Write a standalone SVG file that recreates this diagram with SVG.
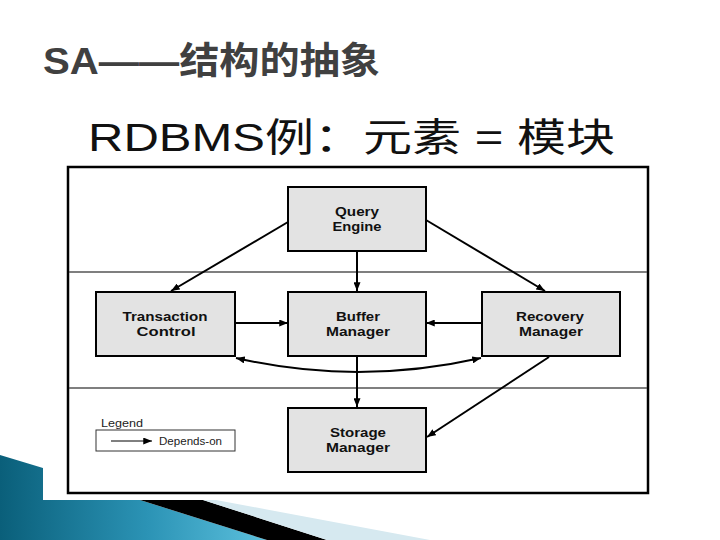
<svg xmlns="http://www.w3.org/2000/svg" width="720" height="540" viewBox="0 0 720 540">
<style>
.title{font-family:"Liberation Sans","Noto Sans CJK SC",sans-serif;font-weight:bold;fill:#404040;}
.sub{font-family:"Liberation Sans","Noto Sans CJK SC",sans-serif;fill:#111;}
.box{fill:#e3e3e3;stroke:#000;stroke-width:2;}
.lbl{font-family:"Liberation Sans",Arial,sans-serif;font-weight:bold;font-size:12px;fill:#111;text-anchor:middle;}
.leg{font-family:"Liberation Sans",Arial,sans-serif;font-size:10px;fill:#222;}
.conn{fill:none;stroke:#000;stroke-width:2;}
.sep{stroke:#555;stroke-width:1.5;}
</style>
<defs>
<marker id="ah" viewBox="0 0 10 8" refX="10" refY="4" markerWidth="9" markerHeight="7" markerUnits="userSpaceOnUse" orient="auto-start-reverse">
<path d="M0,0 L10,4 L0,8 z" fill="#000"/>
</marker>
<linearGradient id="teal" x1="0" y1="0" x2="1" y2="0">
<stop offset="0" stop-color="#0a5f7a"/>
<stop offset="0.55" stop-color="#2b93b5"/>
<stop offset="1" stop-color="#5cc0dd"/>
</linearGradient>
</defs>
<rect width="720" height="540" fill="#fff"/>
<g id="decoration">
<polygon points="0,455 43,468 43,500 140,500 267,540 0,540" fill="url(#teal)"/>
<polygon points="140,500 203,500 327,540 267,540" fill="#000"/>
<polygon points="203,500 216,500 430,540 327,540" fill="#d6e9f0"/>
</g>
<text class="title" x="43" y="74" font-size="37" textLength="337" lengthAdjust="spacingAndGlyphs">SA——结构的抽象</text>
<text class="sub" x="88" y="151" font-size="39" textLength="527" lengthAdjust="spacingAndGlyphs">RDBMS例：元素 = 模块</text>
<g id="frame">
<rect x="68" y="167" width="580" height="326" fill="#fff" stroke="#000" stroke-width="2.5"/>
<line class="sep" x1="69" y1="272" x2="647" y2="272"/>
<line class="sep" x1="69" y1="388" x2="647" y2="388"/>
</g>
<g id="connectors">
<path class="conn" d="M288,222 L171,291" marker-end="url(#ah)"/>
<path class="conn" d="M357,251 L357,291" marker-end="url(#ah)"/>
<path class="conn" d="M426,220 L545,291" marker-end="url(#ah)"/>
<path class="conn" d="M235,323 L288,323" marker-end="url(#ah)"/>
<path class="conn" d="M481,323 L426,323" marker-end="url(#ah)"/>
<path class="conn" d="M236,358 Q357,386 481,358" marker-start="url(#ah)" marker-end="url(#ah)"/>
<path class="conn" d="M357,357 L357,407" marker-end="url(#ah)"/>
<path class="conn" d="M549,357 L427,437" marker-end="url(#ah)"/>
</g>
<g id="query-engine">
<rect class="box" x="288" y="187" width="138" height="64"/>
<text class="lbl" x="357" y="216" textLength="44" lengthAdjust="spacingAndGlyphs">Query</text>
<text class="lbl" x="357" y="231" textLength="49" lengthAdjust="spacingAndGlyphs">Engine</text>
</g>
<g id="transaction-control">
<rect class="box" x="96" y="292" width="139" height="64"/>
<text class="lbl" x="165" y="321" textLength="85" lengthAdjust="spacingAndGlyphs">Transaction</text>
<text class="lbl" x="166" y="336" textLength="59" lengthAdjust="spacingAndGlyphs">Control</text>
</g>
<g id="buffer-manager">
<rect class="box" x="288" y="292" width="138" height="64"/>
<text class="lbl" x="358" y="321" textLength="44" lengthAdjust="spacingAndGlyphs">Buffer</text>
<text class="lbl" x="358" y="336" textLength="64" lengthAdjust="spacingAndGlyphs">Manager</text>
</g>
<g id="recovery-manager">
<rect class="box" x="482" y="292" width="138" height="64"/>
<text class="lbl" x="550" y="321" textLength="68" lengthAdjust="spacingAndGlyphs">Recovery</text>
<text class="lbl" x="551" y="336" textLength="64" lengthAdjust="spacingAndGlyphs">Manager</text>
</g>
<g id="storage-manager">
<rect class="box" x="288" y="408" width="138" height="64"/>
<text class="lbl" x="358" y="437" textLength="56" lengthAdjust="spacingAndGlyphs">Storage</text>
<text class="lbl" x="358" y="452" textLength="64" lengthAdjust="spacingAndGlyphs">Manager</text>
</g>
<g id="legend">
<text class="leg" x="101" y="427" textLength="42" lengthAdjust="spacingAndGlyphs">Legend</text>
<rect x="96" y="430" width="139" height="21" fill="#fff" stroke="#333" stroke-width="1"/>
<line x1="111" y1="441" x2="152" y2="441" stroke="#000" stroke-width="1" marker-end="url(#ah)"/>
<text class="leg" x="159" y="445" textLength="63" lengthAdjust="spacingAndGlyphs">Depends-on</text>
</g>
</svg>
